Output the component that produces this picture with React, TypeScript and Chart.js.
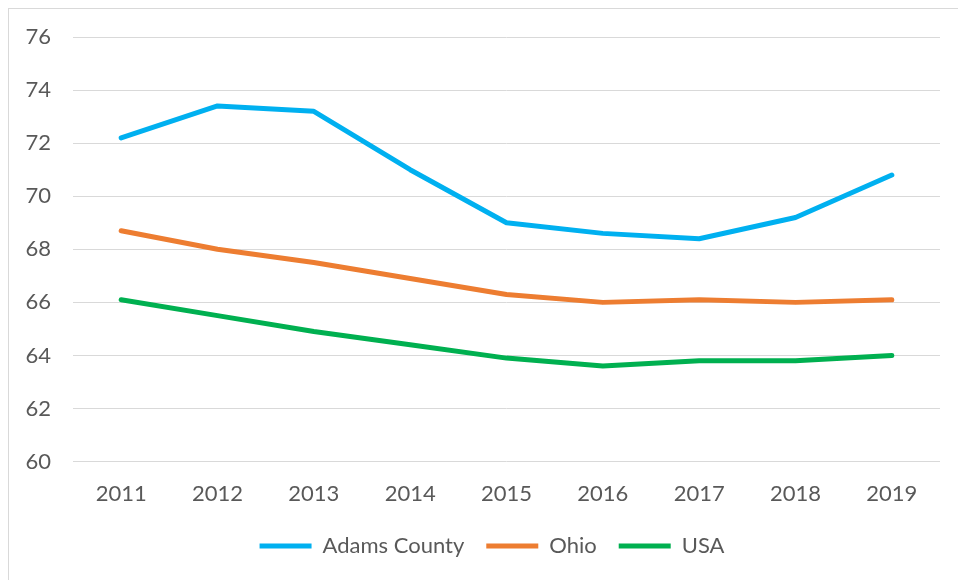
import React, { useEffect, useRef } from "react";
import { Chart, registerables } from "chart.js";

Chart.register(...registerables);

const years = ["2011", "2012", "2013", "2014", "2015", "2016", "2017", "2018", "2019"];
const adamsCounty = [72.2, 73.4, 73.2, 71.0, 69.0, 68.6, 68.4, 69.2, 70.8];
const ohio = [68.7, 68.0, 67.5, 66.9, 66.3, 66.0, 66.1, 66.0, 66.1];
const usa = [66.1, 65.5, 64.9, 64.4, 63.9, 63.6, 63.8, 63.8, 64.0];
const yMin = 60;
const yMax = 76;
const yStep = 2;

const FONT = "Lato, 'Open Sans', sans-serif";
const TEXT = "#595959";
const LEGEND_HEIGHT = 50;
const LEGEND_SHIFT_X = 22;
const LEGEND_SHIFT_Y = -5;

const legendPatchPlugin = {
  id: "legendPatch",
  beforeLayout(chart: any) {
    const lg = chart.legend;
    if (lg && !lg.__patched) {
      const origFit = lg.fit;
      lg.fit = function () {
        origFit.call(this);
        this.height = LEGEND_HEIGHT;
      };
      const origDraw = lg.draw;
      lg.draw = function () {
        const ctx = this.ctx;
        ctx.save();
        ctx.translate(LEGEND_SHIFT_X, LEGEND_SHIFT_Y);
        origDraw.call(this);
        ctx.restore();
      };
      lg.__patched = true;
    }
  },
};

export default function App() {
  const ref = useRef<HTMLCanvasElement | null>(null);

  useEffect(() => {
    if (!ref.current) return;
    const chart = new Chart(ref.current, {
      type: "line",
      data: {
        labels: years,
        datasets: [
          { label: "Adams County", data: adamsCounty, borderColor: "#00B0F0", backgroundColor: "#00B0F0" },
          { label: "Ohio", data: ohio, borderColor: "#ED7D31", backgroundColor: "#ED7D31" },
          { label: "USA", data: usa, borderColor: "#00B050", backgroundColor: "#00B050" },
        ].map((d) => ({
          ...d,
          borderWidth: 5,
          pointRadius: 0,
          tension: 0,
          borderCapStyle: "round" as const,
          borderJoinStyle: "round" as const,
        })),
      },
      plugins: [legendPatchPlugin],
      options: {
        animation: false,
        responsive: false,
        maintainAspectRatio: false,
        layout: { padding: { left: 0, right: 18, top: 37, bottom: 12 } },
        plugins: {
          tooltip: { enabled: false },
          legend: {
            position: "bottom",
            labels: {
              usePointStyle: true,
              pointStyle: "line",
              pointStyleWidth: 52,
              boxWidth: 52,
              boxHeight: 5,
              padding: 22,
              color: TEXT,
              font: { family: FONT, size: 22 },
            },
          },
        },
        scales: {
          x: {
            offset: true,
            grid: { display: false },
            border: { display: false },
            ticks: { color: TEXT, font: { family: FONT, size: 22 }, padding: 11 },
          },
          y: {
            min: yMin,
            max: yMax,
            afterFit: (s: any) => {
              s.width = 73;
            },
            ticks: { stepSize: yStep, color: TEXT, font: { family: FONT, size: 22 }, padding: 22 },
            grid: { color: "#D9D9D9", lineWidth: 1, drawTicks: false },
            border: { display: false },
          },
        },
      },
    });
    return () => chart.destroy();
  }, []);

  return (
    <div style={{ position: "fixed", left: 0, top: 0, width: 958, height: 580, background: "#fff", overflow: "hidden" }}>
      <div
        style={{
          position: "absolute",
          left: 8,
          top: 8,
          width: 1000,
          height: 1000,
          border: "1px solid #D9D9D9",
          boxSizing: "border-box",
        }}
      />
      <canvas ref={ref} width={958} height={580} style={{ position: "absolute", left: 0, top: 0 }} />
    </div>
  );
}
